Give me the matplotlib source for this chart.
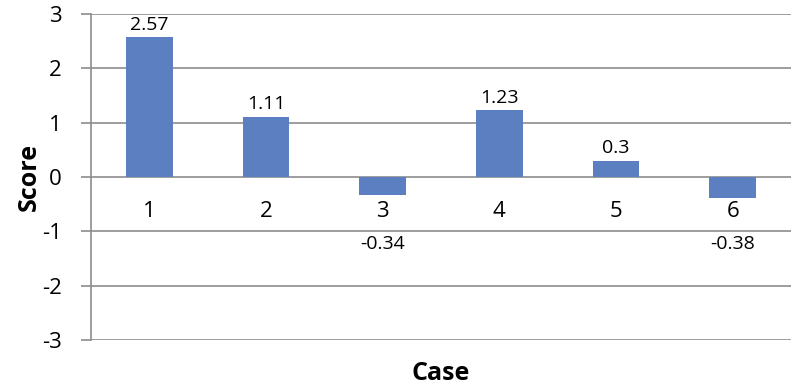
import matplotlib
matplotlib.use("Agg")
import matplotlib.pyplot as plt

# chart data
cases = ['1', '2', '3', '4', '5', '6']
scores = [2.57, 1.11, -0.34, 1.23, 0.3, -0.38]
y_ticks = [-3, -2, -1, 0, 1, 2, 3]

plt.rcParams['font.family'] = ['Open Sans', 'DejaVu Sans']

bar_color = '#5B7FC0'
grid_color = '#8C8C8C'

fig = plt.figure(figsize=(8, 3.89), dpi=100)
fig.subplots_adjust(left=91/800, right=791/800, top=1-14/389, bottom=1-340/389)
ax = fig.add_subplot(111)

xs = list(range(len(cases)))
ax.bar(xs, scores, width=0.4, color=bar_color, zorder=3)

ax.set_xlim(-0.5, len(cases) - 0.5)
ax.set_ylim(-3, 3)
ax.set_yticks(y_ticks)
ax.set_yticklabels([str(t) for t in y_ticks], fontsize=16)
ax.set_xticks([])

# gridlines and axes styling
ax.grid(axis='y', color=grid_color, linewidth=1.2, zorder=0)
for s in ['top', 'right', 'bottom']:
    ax.spines[s].set_visible(False)
ax.spines['left'].set_color(grid_color)
ax.spines['left'].set_linewidth(1.2)
ax.tick_params(axis='y', direction='out', length=7, width=1.2, color=grid_color, pad=14)

# category labels sit just under the zero line
for x, c in zip(xs, cases):
    ax.annotate(c, xy=(x, 0), xytext=(0, -25), textcoords='offset points',
                ha='center', va='center', fontsize=16)

# value labels (negative ones all sit on one row below the category labels)
for x, v in zip(xs, scores):
    if v >= 0:
        ax.annotate(f'{v:g}', xy=(x, v), xytext=(0, 9), textcoords='offset points',
                    ha='center', va='center', fontsize=14)
    else:
        ax.annotate(f'{v:g}', xy=(x, 0), xytext=(0, -48), textcoords='offset points',
                    ha='center', va='center', fontsize=14)

ax.set_ylabel('Score', fontsize=18, fontweight='bold', labelpad=0)
ax.set_xlabel('Case', fontsize=18, fontweight='bold', labelpad=15)

fig.savefig('out.png', dpi=100)
